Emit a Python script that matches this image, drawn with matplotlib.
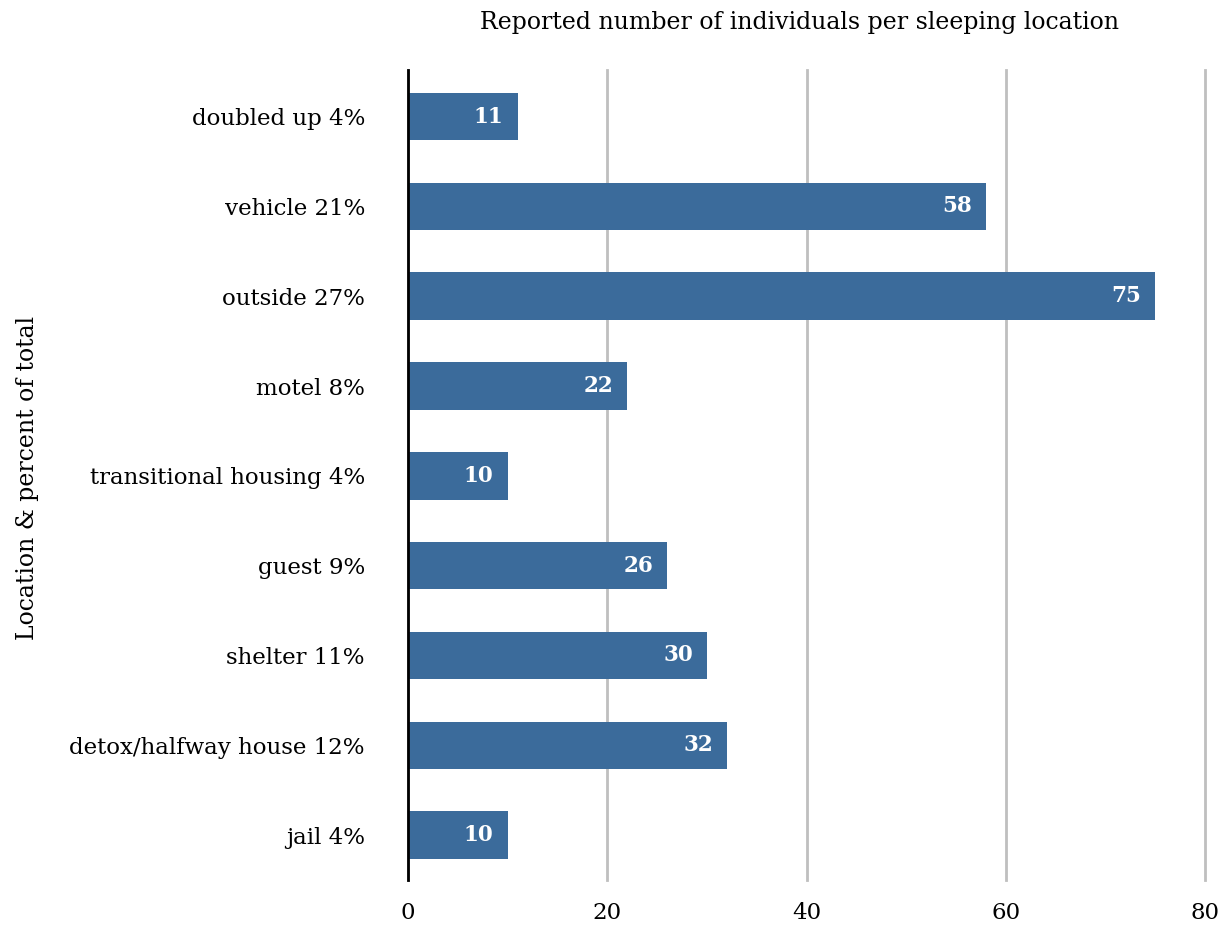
import matplotlib
matplotlib.use("Agg")
import matplotlib.pyplot as plt

categories = ["doubled up 4%", "vehicle 21%", "outside 27%", "motel 8%",
              "transitional housing 4%", "guest 9%", "shelter 11%",
              "detox/halfway house 12%", "jail 4%"]
values = [11, 58, 75, 22, 10, 26, 30, 32, 10]
xticks = [0, 20, 40, 60, 80]

plt.rcParams['font.family'] = ['DejaVu Serif']

fig = plt.figure(figsize=(12.25, 9.3), dpi=100)
ax = fig.add_axes([408/1225, 1-880/930, (1205-408)/1225, (880-70)/930])

ypos = list(range(len(categories)))
ax.barh(ypos, values, height=0.53, color="#3B6B9B", zorder=3)
for y, v in zip(ypos, values):
    ax.text(v - 1.4, y, str(v), ha="right", va="center", color="white",
            fontsize=15.5, fontweight="bold", zorder=4)

ax.set_ylim(8.5, -0.52)
ax.set_xlim(0, 80)
ax.set_yticks(ypos)
ax.set_yticklabels(categories, fontsize=16.5)
ax.set_xticks(xticks)
ax.set_xticklabels([str(t) for t in xticks], fontsize=16.5)
ax.tick_params(axis="both", length=0)
ax.tick_params(axis="x", pad=16)
ax.tick_params(axis="y", pad=31)

ax.grid(axis="x", color="#BFBFBF", linewidth=2, zorder=0)
for gl in ax.get_xgridlines():
    gl.set_clip_on(False)
for s in ["top", "right", "bottom"]:
    ax.spines[s].set_visible(False)
ax.spines["left"].set_linewidth(2)
ax.spines["left"].set_color("black")
ax.spines["left"].set_zorder(5)

fig.text(800/1225, 1-22/930, "Reported number of individuals per sleeping location",
         ha="center", va="center", fontsize=17)
fig.text(28/1225, 1-478/930, "Location & percent of total", rotation=90,
         ha="center", va="center", fontsize=17)

fig.savefig("out.png", dpi=100)
